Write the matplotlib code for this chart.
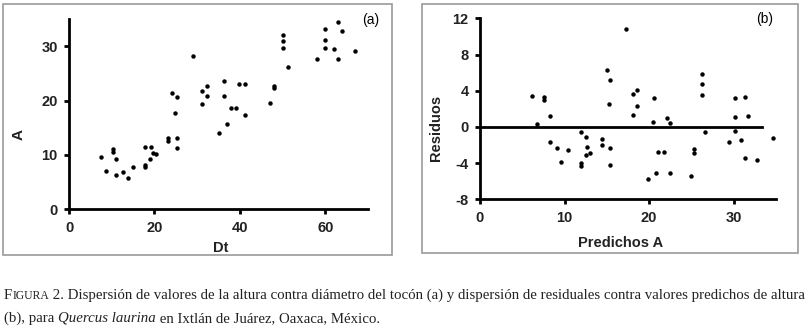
import matplotlib
matplotlib.use('Agg')
import matplotlib.pyplot as plt
from matplotlib.patches import Rectangle

plt.rcParams['axes.unicode_minus'] = False

# (a) altura vs diametro del tocon
dt = [7.6, 8.6, 10.2, 10.2, 11.0, 11.0, 12.7, 13.7, 15.0,
      17.9, 17.9, 17.9, 19.1, 19.0, 19.6, 20.3,
      23.1, 23.1, 24.1, 24.7, 25.2, 25.2, 25.2,
      29.0, 31.1, 31.1, 32.2, 32.2,
      35.1, 36.2, 36.2, 37.0, 37.9, 39.1, 39.9, 41.1, 41.1,
      47.1, 48.0, 48.0, 50.2, 50.2, 50.2, 51.2,
      58.1, 60.0, 60.0, 60.0, 62.0, 62.9, 62.9, 63.9, 66.9]
altura = [9.55, 7.0, 11.0, 10.6, 9.3, 6.4, 6.9, 5.8, 7.8,
          8.1, 7.7, 11.45, 11.45, 9.3, 10.4, 10.2,
          13.2, 12.55, 21.3, 17.8, 20.7, 13.1, 11.2,
          28.2, 21.7, 19.35, 22.7, 20.8,
          14.1, 23.6, 20.8, 15.6, 18.55, 18.7, 23.0, 23.0, 17.3,
          19.6, 22.6, 22.4, 32.0, 30.9, 29.6, 26.1,
          27.6, 33.2, 31.1, 29.6, 29.4, 34.5, 27.7, 32.8, 29.2]

# (b) residuos vs predichos
predichos = [6.2, 6.75, 7.6, 7.6, 8.25, 8.25, 9.1, 9.6, 10.4,
             12.0, 12.0, 12.0, 12.55, 12.7, 12.55, 13.0, 14.45, 14.45,
             15.0, 15.2, 15.4, 15.4, 15.4, 17.3,
             18.15, 18.15, 18.6, 18.6,
             19.9, 20.5, 20.6, 20.8, 21.1, 21.7, 22.1, 22.5, 22.5,
             24.95, 25.3, 25.3, 26.2, 26.2, 26.2, 26.6,
             29.4, 30.1, 30.1, 30.1, 30.9, 31.3, 31.3, 31.7, 32.8, 34.7]
residuos = [3.46, 0.3, 3.35, 2.98, 1.18, -1.69, -2.3, -3.87, -2.6,
            -0.59, -4.0, -4.35, -1.1, -2.2, -3.1, -2.9, -1.33, -1.99,
            6.33, 2.58, 5.19, -2.36, -4.24, 10.87,
            3.68, 1.33, 4.05, 2.28,
            -5.75, 0.52, 3.17, -5.12, -2.73, -2.73, 0.96, 0.44, -5.12,
            -5.38, -2.47, -2.87, 5.82, 4.71, 3.57, -0.59,
            -1.69, 3.17, 1.07, -0.44, -1.44, 3.31, -3.46, 1.18, -3.61, -1.18]

W, H = 809, 328
fig = plt.figure(figsize=(W / 100, H / 100), dpi=100)
sans = 'Liberation Sans'
serif = 'Liberation Serif'


def fx(px):
    return px / W


def fy(py):
    return 1 - py / H


def style_axes(ax):
    for s in ['top', 'right']:
        ax.spines[s].set_visible(False)
    for s in ['left', 'bottom']:
        ax.spines[s].set_linewidth(2)
    ax.tick_params(direction='out', length=3.6, width=2, labelsize=10.5, pad=4.5,
                   labelcolor='#222222')
    for lab in ax.get_xticklabels() + ax.get_yticklabels():
        lab.set_fontfamily(sans)
        lab.set_fontweight('bold')
    ax.patch.set_alpha(0)


# panel frames
fig.patches.append(Rectangle((fx(3), fy(255)), fx(392) - fx(3), fy(4) - fy(255),
                             transform=fig.transFigure, fill=False, ec='#9a9a9a', lw=1.2))
fig.patches.append(Rectangle((fx(422), fy(253)), fx(798) - fx(422), fy(4) - fy(253),
                             transform=fig.transFigure, fill=False, ec='#9a9a9a', lw=1.2))

# (a)
ax1 = fig.add_axes([fx(69), fy(209.3), fx(368) - fx(69), fy(19) - fy(209.3)])
ax1.plot(dt, altura, 'o', color='black', ms=3.2, mew=0)
ax1.set_xlim(0, 70)
ax1.set_ylim(0, 35)
ax1.set_xticks([0, 20, 40, 60])
ax1.set_yticks([0, 10, 20, 30])
style_axes(ax1)
fig.text(fx(19), fy(135), 'A', rotation=90, fontsize=11, fontweight='bold',
         family=sans, ha='center', va='center', color='#222222')
fig.text(fx(221), fy(248), 'Dt', fontsize=10.5, fontweight='bold',
         family=sans, ha='center', va='center', color='#222222')
fig.text(fx(371), fy(20), '(a)', fontsize=10, family=sans, ha='center', va='center')

# (b)
ax2 = fig.add_axes([fx(480), fy(199.3), fx(776) - fx(480), fy(18.3) - fy(199.3)])
ax2.plot(predichos, residuos, 'o', color='black', ms=3.2, mew=0)
ax2.plot([0, 33.4], [0, 0], color='black', lw=2)
ax2.set_xlim(0, 35)
ax2.set_ylim(-8, 12)
ax2.set_xticks([0, 10, 20, 30])
ax2.set_yticks([-8, -4, 0, 4, 8, 12])
style_axes(ax2)
fig.text(fx(436), fy(128), 'Residuos', rotation=90, fontsize=10.5, fontweight='bold',
         family=sans, ha='center', va='center', color='#222222')
fig.text(fx(621), fy(243), 'Predichos A', fontsize=10.5, fontweight='bold',
         family=sans, ha='center', va='center', color='#222222')
fig.text(fx(765), fy(19), '(b)', fontsize=10, family=sans, ha='center', va='center')

# caption with small caps and italics, placed run by run
renderer = fig.canvas.get_renderer()
cap_size = 10.7


def runs(pieces, x0, ybase):
    x = x0
    for txt, size, style in pieces:
        t = fig.text(fx(x), fy(ybase), txt, fontsize=size, family=serif,
                     style=style, ha='left', va='baseline', color='#222222')
        bb = t.get_window_extent(renderer=renderer)
        x += bb.width


runs([('F', cap_size, 'normal'), ('IGURA', cap_size * 0.78, 'normal'),
      (' 2. Dispersión de valores de la altura contra diámetro del tocón (a) y dispersión de '
       'residuales contra valores predichos de altura', cap_size, 'normal')], 4, 299)
runs([('(b), para ', cap_size, 'normal'), ('Quercus laurina', cap_size, 'italic'),
      (' en Ixtlán de Juárez, Oaxaca, México.', cap_size, 'normal')], 4, 322)

fig.savefig('out.png', dpi=100)
